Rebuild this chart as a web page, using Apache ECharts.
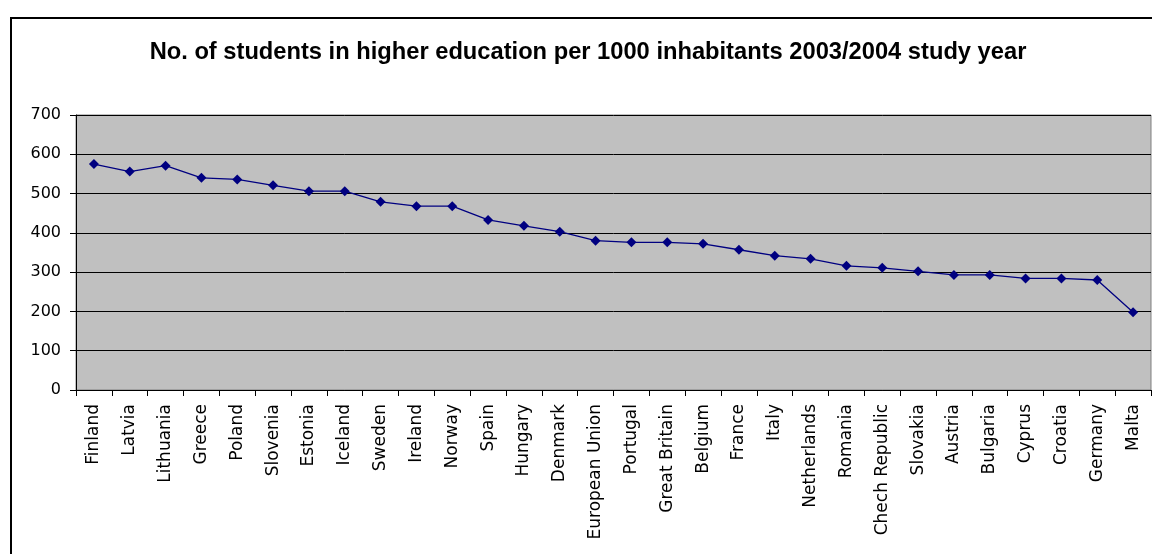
<!DOCTYPE html>
<html>
<head>
<meta charset="utf-8">
<script src="https://cdn.jsdelivr.net/npm/echarts@6/dist/echarts.min.js"></script>
<style>
  html, body { margin: 0; padding: 0; background: #fff; }
  #chart { width: 1152px; height: 554px; }
</style>
</head>
<body>
<div id="chart"></div>
<script>
// Students in higher education per 1000 inhabitants, 2003/2004
const countries = [
  'Finland', 'Latvia', 'Lithuania', 'Greece', 'Poland', 'Slovenia', 'Estonia',
  'Iceland', 'Sweden', 'Ireland', 'Norway', 'Spain', 'Hungary', 'Denmark',
  'European Union', 'Portugal', 'Great Britain', 'Belgium', 'France', 'Italy',
  'Netherlands', 'Romania', 'Chech Republic', 'Slovakia', 'Austria', 'Bulgaria',
  'Cyprus', 'Croatia', 'Germany', 'Malta'
];
const studentsPer1000 = [
  575, 556, 571, 540, 536, 521, 506,
  506, 479, 468, 468, 433, 418, 403,
  380, 376, 376, 372, 357, 342,
  334, 316, 311, 302, 293, 293,
  284, 284, 280, 198
];
const yTicks = { min: 0, max: 700, interval: 100 };

const chart = echarts.init(document.getElementById('chart'), null, { renderer: 'canvas' });
const titleFont = 'Arial, "Liberation Sans", sans-serif';
const labelFont = '"DejaVu Sans", Verdana, sans-serif';

chart.setOption({
  animation: false,
  backgroundColor: '#ffffff',
  title: {
    text: 'No. of students in higher education per 1000 inhabitants 2003/2004 study year',
    left: 583, top: 35, textAlign: 'center',
    textStyle: { fontFamily: titleFont, fontWeight: 'bold', fontSize: 23.7, color: '#000' }
  },
  graphic: [
    {
      // outer chart frame (continues past the right and bottom edges)
      type: 'rect', z: -1, silent: true,
      shape: { x: 11, y: 18, width: 1160, height: 560 },
      style: { fill: 'none', stroke: '#000', lineWidth: 2 }
    }
  ],
  grid: {
    left: 76, right: 1, top: 115, bottom: 164,
    show: true, backgroundColor: '#c0c0c0', borderColor: '#808080', borderWidth: 1
  },
  xAxis: {
    type: 'category',
    data: countries,
    boundaryGap: true,
    axisLine: { lineStyle: { color: '#000', width: 1 } },
    axisTick: { show: true, alignWithLabel: false, length: 6, lineStyle: { color: '#000' } },
    axisLabel: {
      interval: 0, rotate: 90, margin: 14,
      fontFamily: labelFont, fontSize: 17, color: '#000'
    },
    splitLine: { show: false }
  },
  yAxis: {
    type: 'value',
    min: yTicks.min, max: yTicks.max, interval: yTicks.interval,
    axisLine: { show: true, lineStyle: { color: '#000', width: 1 } },
    axisTick: { show: true, length: 6, lineStyle: { color: '#000' } },
    axisLabel: { fontFamily: labelFont, fontSize: 16, color: '#000', margin: 15 },
    splitLine: { show: true, lineStyle: { color: '#000', width: 1 } }
  },
  series: [{
    type: 'line',
    data: studentsPer1000,
    symbol: 'diamond',
    symbolSize: 10,
    itemStyle: { color: '#000080' },
    lineStyle: { color: '#000080', width: 1.3 }
  }]
});
</script>
</body>
</html>
